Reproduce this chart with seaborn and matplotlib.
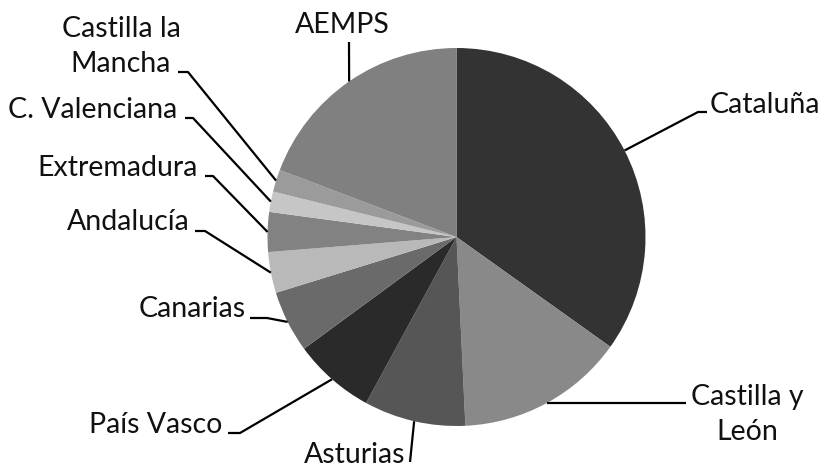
import matplotlib
matplotlib.use("Agg")
import matplotlib.pyplot as plt
import seaborn as sns
import numpy as np

sns.set_theme(style="white")
plt.rcParams['font.family'] = ['Lato', 'DejaVu Sans']

# Data (percent share, clockwise from 12 o'clock)
regions = ["Cataluña", "Castilla y\nLeón", "Asturias", "País Vasco", "Canarias",
           "Andalucía", "Extremadura", "C. Valenciana", "Castilla la\nMancha", "AEMPS"]
values = [34.9, 14.4, 8.7, 7.0, 5.3, 3.5, 3.4, 1.75, 1.9, 19.25]
colors = ["#333333", "#898989", "#565656", "#2a2a2a", "#6a6a6a",
          "#b9b9b9", "#828282", "#c6c6c6", "#9b9b9b", "#808080"]

W, H = 826, 468
CX, CY, R = 456.5, 237.0, 189.0

fig = plt.figure(figsize=(W / 100, H / 100), dpi=100)
ax = fig.add_axes([0, 0, 1, 1])

wedges, _ = ax.pie(values, colors=colors, startangle=90, counterclock=False,
                   radius=1, center=(0, 0), frame=True,
                   wedgeprops=dict(linewidth=0))
ax.set_xlim(-CX / R, (W - CX) / R)
ax.set_ylim(-(H - CY) / R, CY / R)
ax.set_aspect('auto')
ax.axis('off')

def d(px, py):
    return ((px - CX) / R, (CY - py) / R)

# layout: (elbow px, line end px, text anchor px (last line baseline), ha)
layout = {
    "Cataluña": ((698, 112), (707, 112), (710, 113), 'left'),
    "Castilla y\nLeón": ((560, 402), (686, 402), (747, 440), 'center'),
    "Asturias": ((410, 462), (410, 462), (355, 463), 'center'),
    "País Vasco": ((240, 433), (228, 433), (222, 433), 'right'),
    "Canarias": ((267, 318), (250, 318), (246, 317), 'right'),
    "Andalucía": ((205, 231), (195, 231), (190, 230), 'right'),
    "Extremadura": ((213, 176), (205, 176), (198, 176), 'right'),
    "C. Valenciana": ((193, 118), (185, 118), (177, 118), 'right'),
    "Castilla la\nMancha": ((188, 72), (178, 72), (121, 72), 'center'),
    "AEMPS": ((349, 42), (349, 42), (342, 33), 'center'),
}

for w, name in zip(wedges, regions):
    mid = np.deg2rad((w.theta1 + w.theta2) / 2)
    x0, y0 = np.cos(mid), np.sin(mid)
    elbow, end, tpos, ha = layout[name]
    ex, ey = d(*elbow)
    lx, ly = d(*end)
    if name.startswith("Castilla y"):
        ey = y0
        ly = y0
    ax.plot([x0, ex, lx], [y0, ey, ly], color="black", lw=1.6, solid_capstyle='butt')
    tx, ty = d(*tpos)
    ax.text(tx, ty, name, ha=ha, va='baseline', fontsize=20.5, color="#111111",
            multialignment='center', linespacing=1.45)

fig.savefig("out.png", dpi=100, facecolor="white")
